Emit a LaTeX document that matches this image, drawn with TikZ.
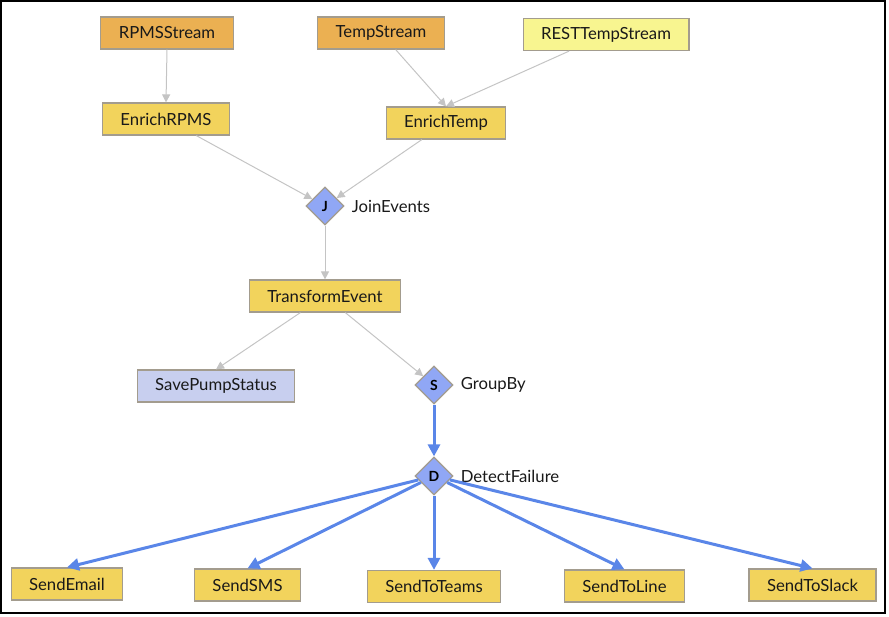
\documentclass[tikz,border=0pt]{standalone}
\usepackage{fontspec}
\setmainfont{Lato}
\usetikzlibrary{arrows.meta,positioning,shapes.geometric}
\definecolor{srcorange}{HTML}{EBB052}
\definecolor{stepyellow}{HTML}{F2D35C}
\definecolor{restyellow}{HTML}{F8F590}
\definecolor{sinklilac}{HTML}{C8CFEF}
\definecolor{opblue}{HTML}{90A7F5}
\definecolor{boxline}{HTML}{A39C8E}
\definecolor{feedgray}{HTML}{C4C4C4}
\definecolor{alertblue}{HTML}{5A86E8}
\tikzset{
    %Define standard arrow tip
    >={Triangle[length=8pt,width=8pt]},
    % Define box styles
    box/.style={
           draw=boxline,
           line width=1.2pt,
           minimum height=32pt,
           inner xsep=18pt,
           inner ysep=0pt,
           text=black!90,
           font=\fontsize{16.7}{19}\selectfont},
    srcbox/.style={box, fill=srcorange},
    stepbox/.style={box, fill=stepyellow},
    restbox/.style={box, fill=restyellow},
    sinkbox/.style={box, fill=sinklilac},
    op/.style={
           diamond,
           draw=boxline,
           line width=1.2pt,
           fill=opblue,
           minimum width=38pt,
           minimum height=38pt,
           inner sep=0pt,
           font=\fontsize{14}{16}\selectfont\bfseries},
    oplabel/.style={text=black!90, font=\fontsize{16.7}{19}\selectfont, inner sep=0pt},
    % Define arrow styles
    feed/.style={
           ->,
           draw=feedgray,
           line width=1pt},
    alert/.style={
           ->,
           >={Triangle[length=12pt,width=12pt]},
           draw=alertblue,
           line width=3pt}
}
\begin{document}
\begin{tikzpicture}[x=1pt,y=-1pt]
\useasboundingbox (0,0) rectangle (889,616);
\draw[line width=2pt] (1,1) rectangle (885,613);

% sources
\node[srcbox] (rpms) at (167,33) {RPMSStream};
\node[srcbox] (temp) at (381,33) {TempStream};
\node[restbox] (rest) at (606,34.5) {RESTTempStream};

% enrich
\node[stepbox] (enrpms) at (166,119) {EnrichRPMS};
\node[stepbox] (entemp) at (446,123) {EnrichTemp};

% join and transform
\node[op] (join) at (325,206) {J};
\node[oplabel, right=7pt of join] (joinlbl) {JoinEvents};
\node[stepbox] (transform) at (325,296) {TransformEvent};

\node[sinkbox] (save) at (216,386) {SavePumpStatus};
\node[op] (group) at (434,385) {S};
\node[oplabel, right=7pt of group] (grouplbl) {GroupBy};
\node[op] (detect) at (434,476) {D};
\node[oplabel, right=7pt of detect] (detectlbl) {DetectFailure};

% notifications
\node[stepbox] (email) at (67,584) {SendEmail};
\node[stepbox] (sms) at (247.5,585) {SendSMS};
\node[stepbox] (teams) at (434,586.5) {SendToTeams};
\node[stepbox] (line) at (624.5,586) {SendToLine};
\node[stepbox] (slack) at (812.5,585) {SendToSlack};

\draw[feed] (rpms.south) -- (enrpms.north);
\draw[feed] (temp) -- (entemp.north);
\draw[feed] (rest) -- (entemp.north);
\draw[feed] (enrpms) -- (join);
\draw[feed] (entemp) -- (join);
\draw[feed] (join) -- (transform);
\draw[feed] (transform) -- (save.north);
\draw[feed] (transform) -- (group);

\draw[alert] (group) -- (detect);
\foreach \t in {email,sms,teams,line,slack}
    \draw[alert] (detect) -- (\t.north);

\end{tikzpicture}
\end{document}
